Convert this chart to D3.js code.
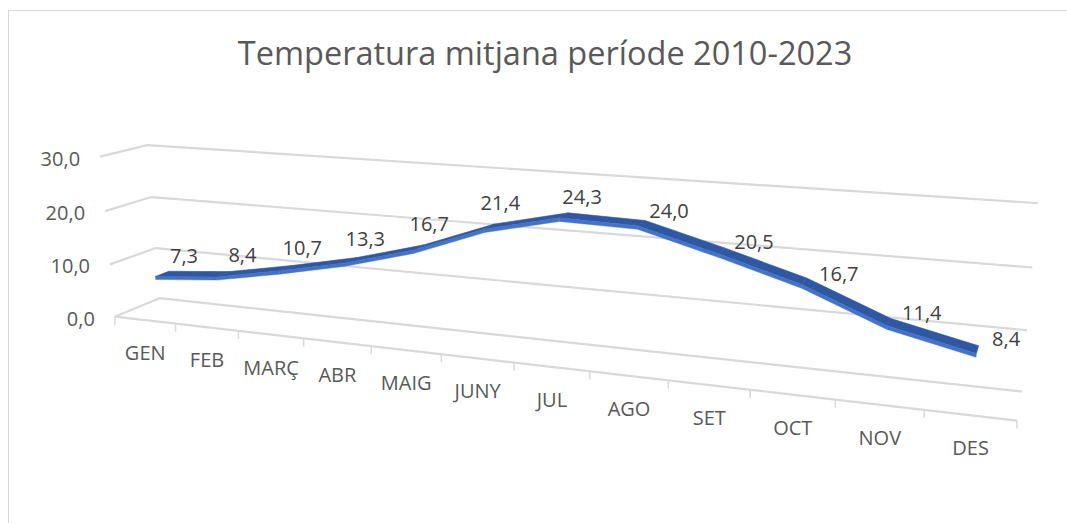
<!DOCTYPE html>
<html>
<head>
<meta charset="utf-8">
<script src="https://cdn.jsdelivr.net/npm/d3@7"></script>
<style>
  body { margin: 0; background: #fff; }
  text { font-family: "Open Sans", sans-serif; }
</style>
</head>
<body>
<svg id="grafico" width="1067" height="523"></svg>
<script>
// dades del grafic
var titol = "Temperatura mitjana període 2010-2023";
var mesos = ["GEN", "FEB", "MARÇ", "ABR", "MAIG", "JUNY", "JUL", "AGO", "SET", "OCT", "NOV", "DES"];
var temperatures = [7.3, 8.4, 10.7, 13.3, 16.7, 21.4, 24.3, 24.0, 20.5, 16.7, 11.4, 8.4];
var valorsEix = [0, 10, 20, 30];

var contenedor = d3.select("#grafico");

// escales del mon 3D: x = mesos, y = temperatura, z = profunditat (0 fons, 1 davant)
var escalaX = d3.scaleBand().domain(mesos).range([0, 12]);
var escalaY = d3.scaleLinear().domain([0, 30]).range([0, 3]);
var fonsZ = 0, davantZ = 1;
var cintaZ = [0.4, 0.7]; // profunditat que ocupa la cinta de la serie

// punts de calibratge de la camera: cantonades del marc (mon -> pantalla)
var marc = [
    [0, 3, 0, 147, 145], [0, 2, 0, 152, 197], [0, 1, 0, 155, 248], [0, 0, 0, 160, 298],
    [12, 3, 0, 1038, 203], [12, 2, 0, 1032, 268], [12, 1, 0, 1027, 330], [12, 0, 0, 1022, 392],
    [0, 3, 1, 100, 157], [0, 2, 1, 105, 211], [0, 1, 1, 110, 264], [0, 0, 1, 115, 317],
    [6, 0, 1, 514, 363], [12, 0, 1, 1017, 420]
];

// calibratge DLT (minims quadrats) per obtenir la matriu de projeccio
function calibrar(punts) {
    var files = [], b = [];
    punts.forEach(function (p) {
        var X = p[0], Y = p[1], Z = p[2], u = p[3] / 1000, v = p[4] / 1000;
        files.push([X, Y, Z, 1, 0, 0, 0, 0, -u * X, -u * Y, -u * Z]); b.push(u);
        files.push([0, 0, 0, 0, X, Y, Z, 1, -v * X, -v * Y, -v * Z]); b.push(v);
    });
    var n = 11, M = [];
    for (var i = 0; i < n; i++) {
        M[i] = [];
        for (var j = 0; j <= n; j++) {
            var s = 0;
            for (var k = 0; k < files.length; k++) s += files[k][i] * (j < n ? files[k][j] : b[k]);
            M[i][j] = s;
        }
    }
    for (var c = 0; c < n; c++) {
        var piv = c;
        for (var r = c + 1; r < n; r++) if (Math.abs(M[r][c]) > Math.abs(M[piv][c])) piv = r;
        var tmp = M[c]; M[c] = M[piv]; M[piv] = tmp;
        for (var r2 = 0; r2 < n; r2++) {
            if (r2 == c) continue;
            var f = M[r2][c] / M[c][c];
            for (var j2 = c; j2 <= n; j2++) M[r2][j2] -= f * M[c][j2];
        }
    }
    return M.map(function (fila, i) { return fila[n] / fila[i]; });
}
var P = calibrar(marc);

function projectar(X, Y, Z) {
    var w = P[8] * X + P[9] * Y + P[10] * Z + 1;
    return [1000 * (P[0] * X + P[1] * Y + P[2] * Z + P[3]) / w,
            1000 * (P[4] * X + P[5] * Y + P[6] * Z + P[7]) / w];
}

var linia = d3.line();
var format = d3.formatLocale({ decimal: ",", thousands: ".", grouping: [3], currency: ["", "€"] }).format(".1f");

// vora de l'area del grafic
contenedor.append("rect")
    .attr("x", 8.5).attr("y", 10.5).attr("width", 1100).attr("height", 600)
    .attr("fill", "none").attr("stroke", "#d9d9d9");

// titol
contenedor.append("text")
    .attr("x", 545).attr("y", 65)
    .attr("text-anchor", "middle")
    .style("font-size", "32.5px")
    .attr("fill", "#595959")
    .text(titol);

// linies de graella: paret esquerra + paret del fons
var xMax = escalaX.range()[1];
valorsEix.forEach(function (v) {
    var y = escalaY(v);
    contenedor.append("path")
        .attr("d", linia([projectar(0, y, davantZ), projectar(0, y, fonsZ), projectar(xMax, y, fonsZ)]))
        .attr("fill", "none").attr("stroke", "#d9d9d9").attr("stroke-width", 2.2);
    var p = projectar(0, y, davantZ);
    contenedor.append("text")
        .attr("x", p[0] - 20).attr("y", p[1] + 2)
        .attr("dy", "0.35em")
        .attr("text-anchor", "end")
        .style("font-size", "20px")
        .attr("fill", "#595959")
        .text(format(v));
});

// vora davantera del terra (eix de categories) i marques
contenedor.append("path")
    .attr("d", linia([projectar(0, 0, davantZ), projectar(xMax, 0, davantZ)]))
    .attr("fill", "none").attr("stroke", "#d9d9d9").attr("stroke-width", 2.2);

d3.range(mesos.length + 1).forEach(function (i) {
    var p = projectar(i, 0, davantZ);
    contenedor.append("line")
        .attr("x1", p[0]).attr("y1", p[1]).attr("x2", p[0]).attr("y2", p[1] + 8)
        .attr("stroke", "#d9d9d9").attr("stroke-width", 1.5);
});

// etiquetes de mesos
mesos.forEach(function (m) {
    var a = projectar(escalaX(m), 0, davantZ), b = projectar(escalaX(m) + escalaX.bandwidth(), 0, davantZ);
    contenedor.append("text")
        .attr("x", (a[0] + b[0]) / 2).attr("y", (a[1] + b[1]) / 2 + 33)
        .attr("dy", "0.35em")
        .attr("text-anchor", "middle")
        .style("font-size", "20px")
        .attr("fill", "#595959")
        .text(m);
});

// cinta 3D de la serie
var punts = mesos.map(function (m, i) {
    return { x: escalaX(m) + escalaX.bandwidth() / 2, y: escalaY(temperatures[i]), valor: temperatures[i] };
});
var gruix = 0.06;
d3.range(punts.length - 1).forEach(function (i) {
    var a = punts[i], b = punts[i + 1];
    // cara superior
    contenedor.append("path")
        .attr("d", linia([projectar(a.x, a.y, cintaZ[0]), projectar(b.x, b.y, cintaZ[0]),
                          projectar(b.x, b.y, cintaZ[1]), projectar(a.x, a.y, cintaZ[1])]) + "Z")
        .attr("fill", "#2e58a4").attr("stroke", "#2e58a4").attr("stroke-width", 0.6);
    // cara davantera (gruix de la cinta)
    contenedor.append("path")
        .attr("d", linia([projectar(a.x, a.y, cintaZ[1]), projectar(b.x, b.y, cintaZ[1]),
                          projectar(b.x, b.y - gruix, cintaZ[1]), projectar(a.x, a.y - gruix, cintaZ[1])]) + "Z")
        .attr("fill", "#4472c4").attr("stroke", "#4472c4").attr("stroke-width", 0.4);
});

// etiquetes de dades: sobre el punt, desplacades segons el pendent de la cinta
var vertexs = punts.map(function (d) { return projectar(d.x, d.y, cintaZ[0]); });
punts.forEach(function (d, i) {
    var p = vertexs[i], pendents = [];
    if (i > 0) pendents.push((p[1] - vertexs[i - 1][1]) / (p[0] - vertexs[i - 1][0]));
    if (i < vertexs.length - 1) pendents.push((vertexs[i + 1][1] - p[1]) / (vertexs[i + 1][0] - p[0]));
    var s = d3.mean(pendents);
    contenedor.append("text")
        .attr("x", p[0] + 15 + 40 * s).attr("y", p[1] - 15 + 25 * s)
        .attr("dy", "0.35em")
        .attr("text-anchor", "middle")
        .style("font-size", "20px")
        .attr("fill", "#404040")
        .text(format(d.valor));
});
</script>
</body>
</html>
